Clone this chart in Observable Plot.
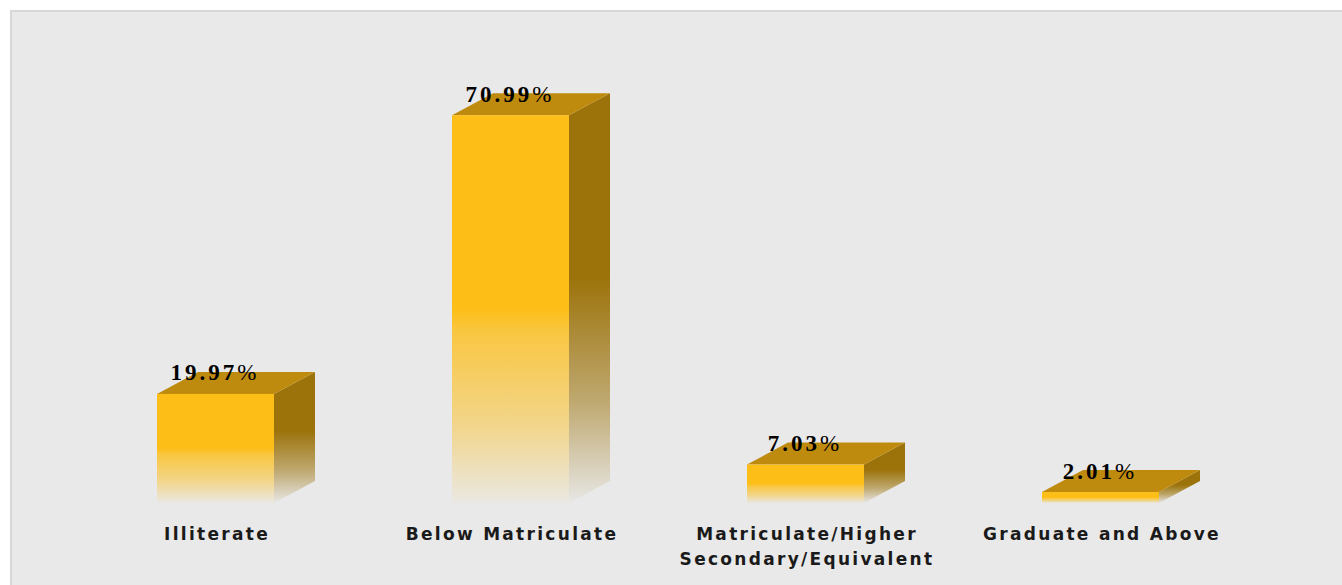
<!DOCTYPE html>
<html><head><meta charset="utf-8">
<script src="https://cdn.jsdelivr.net/npm/d3@7"></script>
<script src="https://cdn.jsdelivr.net/npm/@observablehq/plot@0.6"></script>
<style>
body{margin:0;background:#fff;}
#wrap{position:relative;width:1342px;height:585px;overflow:hidden}
#panel{position:absolute;left:10px;top:10px;right:0;bottom:0;background:#e9e9e9;border-top:2px solid #d7d7d7;border-left:2px solid #d7d7d7;}
#chart{position:absolute;left:0;top:0}
g[font-family="Liberation Serif"] text{letter-spacing:3px}
g[font-family="DejaVu Sans"] text{letter-spacing:2.3px}
</style></head><body>
<div id="wrap"><div id="panel"></div><div id="chart"></div></div>
<script>
const categories = ["Illiterate", "Below Matriculate", "Matriculate/Higher Secondary/Equivalent", "Graduate and Above"];
const values = [19.97, 70.99, 7.03, 2.01];
const valueLabels = ["19.97%", "70.99%", "7.03%", "2.01%"];
const tickLabels = ["Illiterate", "Below Matriculate", "Matriculate/Higher\nSecondary/Equivalent", "Graduate and Above"];
const data = categories.map((c, i) => ({category: c, value: values[i], label: valueLabels[i], tick: tickLabels[i]}));

const DX = 41, DY = 22;
function faces(index, scales) {
  const {x, y} = scales;
  const bw = typeof x.bandwidth === "function" ? x.bandwidth() : x.bandwidth;
  const g = d3.create("svg:g");
  const defs = g.append("defs");
  function grad(id, color, stops) {
    const lg = defs.append("linearGradient").attr("id", id)
      .attr("x1", 0).attr("y1", 0).attr("x2", 0).attr("y2", 1);
    stops.forEach(([o, a]) =>
      lg.append("stop").attr("offset", o).attr("stop-color", color).attr("stop-opacity", a));
  }
  grad("gFront", "#fdbe18", [[0, 1], [0.5, 1], [0.56, 0.8], [0.8, 0.45], [1, 0.03]]);
  grad("gSide", "#9c730b", [[0, 1], [0.45, 1], [0.75, 0.55], [1, 0.02]]);
  const y0 = y(0);
  data.forEach(d => {
    const x0 = x(d.category), x1 = x0 + bw, yt = y(d.value);
    g.append("polygon")
      .attr("points", [[x1, yt], [x1 + DX, yt - DY], [x1 + DX, y0 - DY], [x1, y0]].join(" "))
      .attr("fill", "url(#gSide)");
    g.append("polygon")
      .attr("points", [[x0, yt], [x0 + DX, yt - DY], [x1 + DX, yt - DY], [x1, yt]].join(" "))
      .attr("fill", "#bf8b0e");
  });
  return g.node();
}

const chart = Plot.plot({
  width: 1342,
  height: 585,
  marginTop: 66,
  marginBottom: 82,
  marginLeft: 67,
  marginRight: 93,
  style: {background: "transparent", overflow: "visible"},
  x: {domain: categories, paddingInner: 0.605, paddingOuter: 0.3, axis: null},
  y: {domain: [0, 80], axis: null},
  marks: [
    faces,
    Plot.barY(data, {x: "category", y: "value", fill: "url(#gFront)"}),
    Plot.text(data, {x: "category", y: "value", text: "label", dy: -14, dx: -1, lineAnchor: "bottom",
      fontFamily: "Liberation Serif", fontWeight: "bold", fontSize: 23, fill: "#000"}),
    Plot.text(data, {x: "category", y: () => 0, text: "tick", dy: 19, dx: 1, lineAnchor: "top", lineHeight: 1.45,
      fontFamily: "DejaVu Sans", fontWeight: "bold", fontSize: 17, fill: "#1a1a1a"})
  ]
});
// render the "%" sign in regular weight, as in the reference
d3.select(chart).selectAll('g[font-family="Liberation Serif"] text').each(function() {
  const t = this.textContent;
  if (t.endsWith("%")) {
    this.textContent = "";
    d3.select(this).append("tspan").text(t.slice(0, -1));
    d3.select(this).append("tspan").attr("font-weight", "normal").text("%");
  }
});
document.getElementById("chart").appendChild(chart);
</script>
</body></html>
